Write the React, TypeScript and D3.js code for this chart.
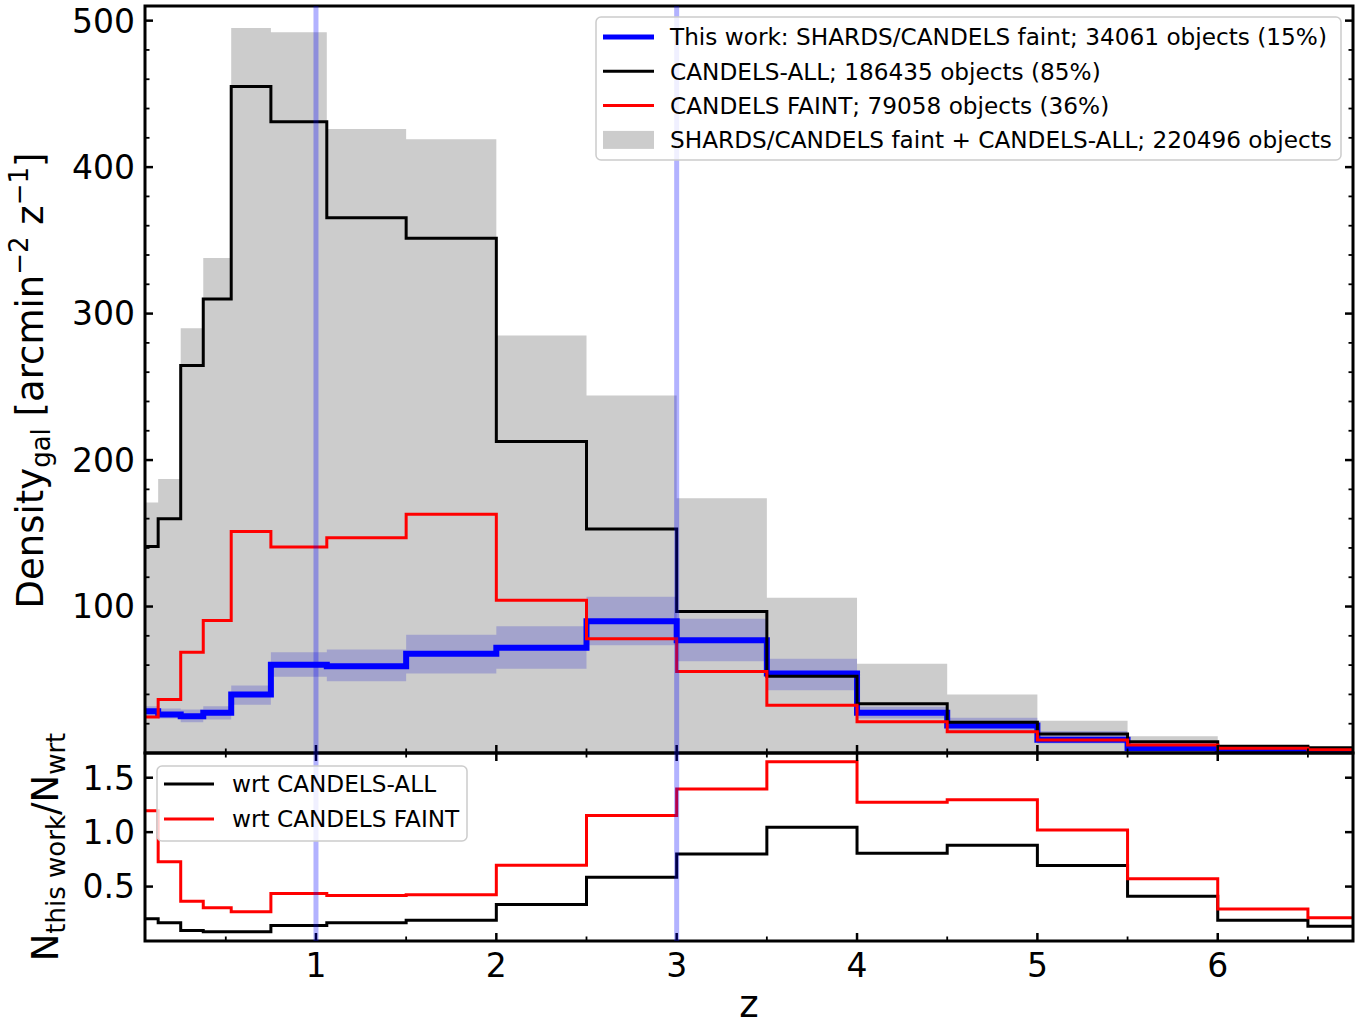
import React from 'react';
import * as d3 from 'd3';

// ---------- data ----------
const zEdges = [0.0, 0.125, 0.25, 0.375, 0.53, 0.75, 1.06, 1.5, 2.0, 2.5, 3.0, 3.5, 4.0, 4.5, 5.0, 5.5, 6.0, 6.5, 7.0];
const densCombined = [171, 187, 290, 338, 495, 492, 426, 419, 285, 244, 174, 106, 61, 40, 22, 11.5, 5.5, 4];
const densCandelsAll = [141, 160, 264.5, 310, 455, 431, 365.5, 351.5, 212.6, 153, 96.6, 52.4, 33.6, 21, 13, 7.6, 4.6, 3.5];
const densCandelsFaint = [24.6, 36.5, 68.8, 90.4, 151.2, 140.7, 147, 163, 104.3, 78, 55.6, 32.6, 21.3, 14.5, 8.8, 5.5, 3.3, 2.3];
const densThisWork = [28.5, 26.3, 25.1, 27.4, 40, 60.2, 59.3, 67.7, 71.8, 90, 77, 54.3, 27.4, 18.8, 9, 3.2, 0.9, 0.5];
const densThisWorkLo = [25, 23.5, 21, 22.9, 33, 52, 49, 54.3, 57.5, 73.6, 62.7, 42.9, 23.5, 14, 6.5, 2.4, 0.5, 0.2];
const densThisWorkHi = [32, 30.4, 29.7, 32, 46, 68.8, 70.7, 80.7, 86.6, 106.6, 91.6, 64.3, 31.5, 24, 15, 7, 2, 1];
const ratioAll = [0.204, 0.167, 0.096, 0.084, 0.084, 0.142, 0.167, 0.191, 0.335, 0.585, 0.8, 1.044, 0.806, 0.879, 0.693, 0.411, 0.191, 0.136];
const ratioFaint = [1.197, 0.727, 0.365, 0.305, 0.268, 0.436, 0.417, 0.424, 0.696, 1.154, 1.396, 1.647, 1.274, 1.298, 1.02, 0.571, 0.295, 0.213];

const xTicks = [1, 2, 3, 4, 5, 6];
const xMinorTicks = [0.5, 1.5, 2.5, 3.5, 4.5, 5.5, 6.5];
const yTopTicks = [100, 200, 300, 400, 500];
const yTopMinor = d3.range(20, 510, 20).filter((v) => v % 100 !== 0);
const yBotTicks = [0.5, 1.0, 1.5];
const markerZ = [1, 3];

const topLegend = [
  { label: 'This work: SHARDS/CANDELS faint; 34061 objects (15%)', kind: 'line', color: '#0000ff', width: 5 },
  { label: 'CANDELS-ALL; 186435 objects (85%)', kind: 'line', color: '#000000', width: 3 },
  { label: 'CANDELS FAINT; 79058 objects (36%)', kind: 'line', color: '#ff0000', width: 3 },
  { label: 'SHARDS/CANDELS faint + CANDELS-ALL; 220496 objects', kind: 'patch', color: '#cccccc', width: 0 },
];
const botLegend = [
  { label: 'wrt CANDELS-ALL', color: '#000000' },
  { label: 'wrt CANDELS FAINT', color: '#ff0000' },
];

// ---------- layout ----------
const W = 1371;
const H = 1027;
const L = 145;
const R = 1353;
const T1 = 6;
const B1 = 753;
const B2 = 941;
const FONT = 'DejaVu Sans, sans-serif';
const TICK_FS = 33;
const LABEL_FS = 37;
const LEG_FS = 23.2;

const x = d3.scaleLinear().domain([0.052, 6.75]).range([L, R]);
const yTop = d3.scaleLinear().domain([0, 510]).range([B1, T1]);
const yBot = d3.scaleLinear().domain([0, 1.727]).range([B2, B1]);

type P = [number, number];
function stepPts(vals: number[]): P[] {
  const pts: P[] = vals.map((v, i) => [zEdges[i], v]);
  pts.push([zEdges[vals.length], vals[vals.length - 1]]);
  return pts;
}

function stepLine(vals: number[], ys: d3.ScaleLinear<number, number>) {
  return d3
    .line<P>()
    .x((d) => x(d[0]))
    .y((d) => ys(d[1]))
    .curve(d3.curveStepAfter)(stepPts(vals)) as string;
}

function stepArea(lo: number[] | null, hi: number[], ys: d3.ScaleLinear<number, number>) {
  const pts = stepPts(hi).map((p, i) => ({ z: p[0], hi: p[1], lo: lo ? lo[Math.min(i, lo.length - 1)] : 0 }));
  return d3
    .area<{ z: number; hi: number; lo: number }>()
    .x((d) => x(d.z))
    .y0((d) => ys(d.lo))
    .y1((d) => ys(d.hi))
    .curve(d3.curveStepAfter)(pts) as string;
}

export default function App() {
  const tickW = 2.5;
  const majLen = 8;
  const minLen = 4.5;

  return (
    <svg
      width={W}
      height={H}
      viewBox={`0 0 ${W} ${H}`}
      style={{ position: 'absolute', left: 0, top: 0, background: '#fff' }}
      fontFamily={FONT}
    >
      <defs>
        <clipPath id="clipTop">
          <rect x={L} y={T1} width={R - L} height={B1 - T1} />
        </clipPath>
        <clipPath id="clipBot">
          <rect x={L} y={B1} width={R - L} height={B2 - B1} />
        </clipPath>
        <clipPath id="clipAll">
          <rect x={L} y={T1} width={R - L} height={B2 - T1} />
        </clipPath>
      </defs>
      <rect x={0} y={0} width={W} height={H} fill="#fff" />

      {/* top panel data */}
      <g clipPath="url(#clipTop)">
        <path d={stepArea(null, densCombined, yTop)} fill="#cccccc" stroke="none" />
        <path d={stepArea(densThisWorkLo, densThisWorkHi, yTop)} fill="#0000cc" fillOpacity={0.2} stroke="none" />
        <path d={stepLine(densThisWork, yTop)} fill="none" stroke="#0000ff" strokeWidth={6} />
        <path d={stepLine(densCandelsAll, yTop)} fill="none" stroke="#000" strokeWidth={3} />
        <path d={stepLine(densCandelsFaint, yTop)} fill="none" stroke="#ff0000" strokeWidth={3} />
      </g>

      {/* bottom panel data */}
      <g clipPath="url(#clipBot)">
        <path d={stepLine(ratioAll, yBot)} fill="none" stroke="#000" strokeWidth={3} />
        <path d={stepLine(ratioFaint, yBot)} fill="none" stroke="#ff0000" strokeWidth={3} />
      </g>

      {/* ticks */}
      <g stroke="#000">
        {yTopTicks.map((v) => (
          <g key={'yt' + v}>
            <line x1={L} x2={L + majLen} y1={yTop(v)} y2={yTop(v)} strokeWidth={tickW} />
            <line x1={R} x2={R - majLen} y1={yTop(v)} y2={yTop(v)} strokeWidth={tickW} />
          </g>
        ))}
        {yTopMinor.map((v) => (
          <g key={'ytm' + v}>
            <line x1={L} x2={L + minLen} y1={yTop(v)} y2={yTop(v)} strokeWidth={1.8} />
            <line x1={R} x2={R - minLen} y1={yTop(v)} y2={yTop(v)} strokeWidth={1.8} />
          </g>
        ))}
        {xTicks.map((v) => (
          <g key={'xt' + v}>
            <line x1={x(v)} x2={x(v)} y1={B1} y2={B1 - majLen} strokeWidth={tickW} />
            <line x1={x(v)} x2={x(v)} y1={B1} y2={B1 + majLen} strokeWidth={tickW} />
            <line x1={x(v)} x2={x(v)} y1={B2} y2={B2 - majLen} strokeWidth={tickW} />
          </g>
        ))}
        {xMinorTicks.map((v) => (
          <g key={'xm' + v}>
            <line x1={x(v)} x2={x(v)} y1={B1} y2={B1 - minLen} strokeWidth={1.8} />
            <line x1={x(v)} x2={x(v)} y1={B1} y2={B1 + minLen} strokeWidth={1.8} />
            <line x1={x(v)} x2={x(v)} y1={B2} y2={B2 - minLen} strokeWidth={1.8} />
          </g>
        ))}
        {yBotTicks.map((v) => (
          <g key={'yb' + v}>
            <line x1={L} x2={L + majLen} y1={yBot(v)} y2={yBot(v)} strokeWidth={tickW} />
            <line x1={R} x2={R - majLen} y1={yBot(v)} y2={yBot(v)} strokeWidth={tickW} />
          </g>
        ))}
      </g>

      {/* spines */}
      <rect x={L} y={T1} width={R - L} height={B1 - T1} fill="none" stroke="#000" strokeWidth={3} />
      <rect x={L} y={B1} width={R - L} height={B2 - B1} fill="none" stroke="#000" strokeWidth={3} />

      {/* vertical markers */}
      <g clipPath="url(#clipAll)">
        {markerZ.map((z) => (
          <line key={'m' + z} x1={x(z)} x2={x(z)} y1={T1} y2={B2 + 2} stroke="#0000ff" strokeOpacity={0.3} strokeWidth={5} />
        ))}
      </g>

      {/* tick labels */}
      <g fontSize={TICK_FS} fill="#000">
        {yTopTicks.map((v) => (
          <text key={'ytl' + v} x={135} y={yTop(v)} dy="0.36em" textAnchor="end">
            {v}
          </text>
        ))}
        {yBotTicks.map((v) => (
          <text key={'ybl' + v} x={135} y={yBot(v)} dy="0.36em" textAnchor="end">
            {v.toFixed(1)}
          </text>
        ))}
        {xTicks.map((v) => (
          <text key={'xtl' + v} x={x(v)} y={977} textAnchor="middle">
            {v}
          </text>
        ))}
      </g>

      {/* axis labels */}
      <text x={(L + R) / 2} y={1017} fontSize={LABEL_FS} textAnchor="middle">z</text>
      <text transform={`translate(43,${(T1 + B1) / 2 + 1}) rotate(-90)`} fontSize={LABEL_FS} textAnchor="middle">
        Density
        <tspan fontSize={26} dy={7}>gal</tspan>
        <tspan dy={-7}> [arcmin</tspan>
        <tspan fontSize={26} dy={-15}>−2</tspan>
        <tspan dy={15}> z</tspan>
        <tspan fontSize={26} dy={-15}>−1</tspan>
        <tspan dy={15}>]</tspan>
      </text>
      <text transform={`translate(58,${(B1 + B2) / 2}) rotate(-90)`} fontSize={LABEL_FS} textAnchor="middle">
        N
        <tspan fontSize={26} dy={7}>this work</tspan>
        <tspan dy={-7}>/N</tspan>
        <tspan fontSize={26} dy={7}>wrt</tspan>
      </text>

      {/* top legend */}
      <g>
        <rect x={596} y={17} width={745} height={143} rx={5} fill="#fff" fillOpacity={0.8} stroke="#cccccc" strokeWidth={1.5} />
        {topLegend.map((e, i) => {
          const cy = 37 + i * 34.3;
          return (
            <g key={'tl' + i}>
              {e.kind === 'line' ? (
                <line x1={603} x2={654} y1={cy} y2={cy} stroke={e.color} strokeWidth={e.width} />
              ) : (
                <rect x={603} y={cy - 9} width={51} height={18} fill={e.color} />
              )}
              <text x={670} y={cy} dy="0.36em" fontSize={LEG_FS}>
                {e.label}
              </text>
            </g>
          );
        })}
      </g>

      {/* bottom legend */}
      <g>
        <rect x={157} y={766} width={310} height={75} rx={5} fill="#fff" fillOpacity={0.8} stroke="#cccccc" strokeWidth={1.5} />
        {botLegend.map((e, i) => {
          const cy = 784 + i * 35;
          return (
            <g key={'bl' + i}>
              <line x1={164} x2={214} y1={cy} y2={cy} stroke={e.color} strokeWidth={3} />
              <text x={232} y={cy} dy="0.36em" fontSize={LEG_FS}>
                {e.label}
              </text>
            </g>
          );
        })}
      </g>
    </svg>
  );
}
